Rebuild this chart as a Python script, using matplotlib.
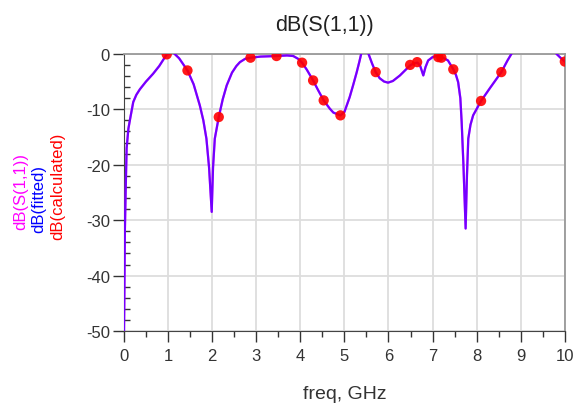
import matplotlib
matplotlib.use('Agg')
import matplotlib.pyplot as plt
from matplotlib.ticker import MultipleLocator

plt.rcParams['font.family'] = ['Liberation Sans', 'DejaVu Sans']
plt.rcParams['axes.unicode_minus'] = False

# S(1,1) in dB, measured and fitted (they overlap)
freq = [0.00, 0.01, 0.02, 0.04, 0.06, 0.10, 0.14, 0.21, 0.28, 0.36, 0.50, 0.66, 0.80,
        0.97, 1.05, 1.12, 1.25, 1.44, 1.58, 1.72, 1.80, 1.87, 1.93, 1.99, 2.02, 2.06,
        2.15, 2.24, 2.33, 2.45, 2.55, 2.63, 2.75, 2.87, 3.10, 3.46, 3.70, 3.84, 3.95,
        4.04, 4.15, 4.29, 4.40, 4.53, 4.67, 4.75, 4.91, 5.00, 5.12, 5.20, 5.28, 5.34,
        5.39, 5.45, 5.52, 5.56, 5.63, 5.71, 5.80, 5.90, 5.99, 6.10, 6.26, 6.40, 6.49,
        6.58, 6.66, 6.72, 6.79, 6.84, 6.90, 7.00, 7.09, 7.17, 7.26, 7.35, 7.47, 7.53,
        7.58, 7.63, 7.66, 7.70, 7.75, 7.78, 7.81, 7.86, 7.92, 8.10, 8.30, 8.56, 8.70,
        8.79, 8.90, 9.30, 9.70, 9.81, 9.90, 10.0]
s11_db = [-50, -42, -32, -24, -17, -13.5, -11.7, -8.7, -7.4, -6.4, -5.0, -3.6, -2.2,
          -0.1, 0.2, 0.2, -0.8, -3.0, -5.5, -9.3, -12.0, -15.3, -20.5, -28.5, -20.5, -15.3,
          -11.4, -8.2, -5.7, -3.4, -2.2, -1.5, -0.9, -0.7, -0.5, -0.4, -0.3, -0.4, -0.9,
          -1.6, -2.9, -4.8, -6.5, -8.4, -9.9, -10.6, -11.1, -10.5, -7.8, -5.6, -3.3, -1.4,
          0.3, 1.0, 0.5, -0.3, -1.8, -3.3, -4.4, -5.0, -5.2, -4.9, -3.9, -2.8, -2.1,
          -1.7, -1.6, -2.2, -3.9, -2.4, -1.2, -0.6, -0.4, -0.5, -0.8, -1.2, -2.8, -3.8,
          -5.1, -8.0, -12.3, -20.0, -31.5, -22.0, -15.3, -12.8, -11.1, -8.5, -6.2, -3.3, -1.2,
          0.0, 1.5, 3.0, 1.0, 0.0, -0.7, -1.4]
fitted_db = list(s11_db)

# calculated points
calc_freq = [0.97, 1.44, 2.15, 2.87, 3.46, 4.04, 4.29, 4.53, 4.91, 5.71,
             6.49, 6.65, 7.13, 7.20, 7.47, 8.10, 8.56, 10.0]
calc_db = [-0.1, -3.0, -11.4, -0.7, -0.4, -1.6, -4.8, -8.4, -11.1, -3.3,
           -2.0, -1.5, -0.6, -0.7, -2.8, -8.5, -3.3, -1.4]

fig = plt.figure(figsize=(5.74, 4.06), dpi=100)
ax = fig.add_axes([0.216, 0.182, 0.768, 0.683])

ax.plot(freq, s11_db, color='magenta', lw=1.6, zorder=3)
ax.plot(freq, fitted_db, color='blue', lw=1.6, alpha=0.55, zorder=4)
ax.scatter(calc_freq, calc_db, s=55, color='red', edgecolors='none', alpha=0.9, zorder=5)

ax.set_xlim(0, 10)
ax.set_ylim(-50, 0)
ax.xaxis.set_major_locator(MultipleLocator(1))
ax.xaxis.set_minor_locator(MultipleLocator(0.5))
ax.yaxis.set_major_locator(MultipleLocator(10))
ax.yaxis.set_minor_locator(MultipleLocator(2))
ax.grid(True, which='major', color='#dddddd', lw=1.3, zorder=0)

ax.tick_params(axis='x', which='major', direction='out', length=8, width=1, labelsize=12, colors='#333333', pad=4)
ax.tick_params(axis='x', which='minor', direction='out', length=4, width=1, colors='#333333')
ax.tick_params(axis='y', which='major', direction='out', length=8, width=1, labelsize=12, colors='#333333', pad=2)
ax.tick_params(axis='y', which='minor', direction='in', length=4, width=1, colors='#333333')

for side in ['left', 'bottom']:
    ax.spines[side].set_color('#444444')
for side in ['top', 'right']:
    ax.spines[side].set_color('#999999')
    ax.spines[side].set_linewidth(1.3)

fig.text(324 / 574, 1 - 25 / 406, 'dB(S(1,1))', fontsize=15.5, color='#222222',
         ha='center', va='center')
fig.text(345 / 574, 1 - 395 / 406, 'freq, GHz', fontsize=14, color='#333333',
         ha='center', va='center')

fig.text(21 / 574, 1 - 230 / 406, 'dB(S(1,1))', rotation=90, color='magenta',
         fontsize=12, ha='center', va='bottom')
fig.text(39 / 574, 1 - 233 / 406, 'dB(fitted)', rotation=90, color='blue',
         fontsize=12, ha='center', va='bottom')
fig.text(58 / 574, 1 - 240 / 406, 'dB(calculated)', rotation=90, color='red',
         fontsize=12, ha='center', va='bottom')

fig.savefig('out.png', dpi=100)
